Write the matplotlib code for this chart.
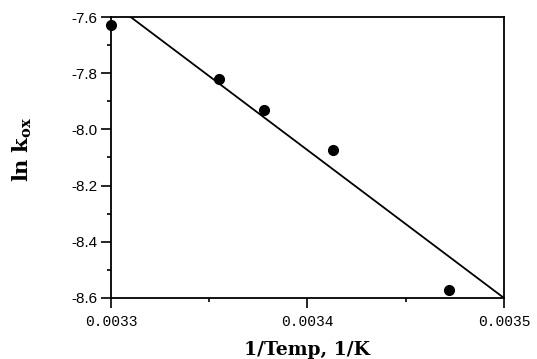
import matplotlib
matplotlib.use("Agg")
import matplotlib.pyplot as plt
from matplotlib.ticker import MultipleLocator, FormatStrFormatter

# Arrhenius-type data
inv_temp = [0.003300, 0.003355, 0.003378, 0.003413, 0.003472]
ln_kox = [-7.63, -7.82, -7.93, -8.075, -8.57]

# least-squares line as drawn (endpoints inside the frame)
fit_x = [0.003310, 0.003500]
fit_y = [-7.60, -8.60]

plt.rcParams["mathtext.fontset"] = "dejavuserif"

fig = plt.figure(figsize=(5.37, 3.59), dpi=100)
ax = fig.add_axes([0.2067, 0.170, 0.7318, 0.7826])

ax.plot(fit_x, fit_y, color="black", lw=1.3, clip_on=True)
ax.plot(inv_temp, ln_kox, "o", color="black", ms=7, clip_on=False, zorder=5)

ax.set_xlim(0.0033, 0.0035)
ax.set_ylim(-8.6, -7.6)

ax.xaxis.set_major_locator(MultipleLocator(0.0001))
ax.xaxis.set_minor_locator(MultipleLocator(0.00005))
ax.yaxis.set_major_locator(MultipleLocator(0.2))
ax.yaxis.set_minor_locator(MultipleLocator(0.1))
ax.xaxis.set_major_formatter(FormatStrFormatter("%.4f"))
ax.yaxis.set_major_formatter(FormatStrFormatter("%.1f"))

ax.tick_params(which="both", direction="out", top=False, right=False, width=1.2)
ax.tick_params(which="major", length=7)
ax.tick_params(which="minor", length=3)
ax.tick_params(axis="y", labelsize=11, pad=3)
ax.tick_params(axis="x", labelsize=10.5, pad=5)
for lab in ax.get_xticklabels():
    lab.set_family("Liberation Mono")
for lab in ax.get_yticklabels():
    lab.set_family("Liberation Sans")

for sp in ax.spines.values():
    sp.set_linewidth(1.3)

ax.set_xlabel("1/Temp, 1/K", family="DejaVu Serif", fontweight="bold",
              fontsize=13.5, labelpad=9)
ax.set_ylabel(r"$\mathbf{ln\ k}_{\mathbf{ox}}$", fontsize=15)
ax.yaxis.set_label_coords(-0.195, 0.53)

fig.savefig("out.png", dpi=100)
